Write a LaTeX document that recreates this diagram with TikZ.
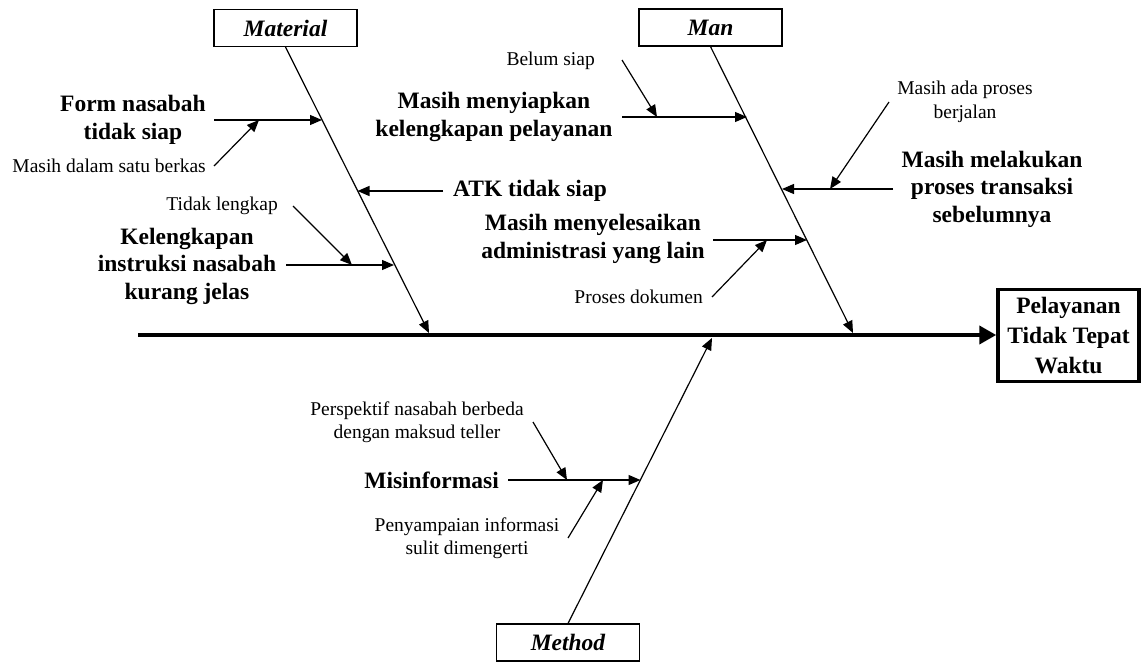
\documentclass[tikz,border=0pt]{standalone}
\usepackage{fontspec}
\setmainfont{Liberation Serif}
\usetikzlibrary{arrows.meta}
\begin{document}
\begin{tikzpicture}[x=1pt,y=-1pt,
  cat/.style={draw,line width=1.2pt,minimum width=143pt,minimum height=37pt,inner sep=0pt,font=\fontsize{23.5}{27.5}\selectfont\bfseries\itshape},
  big/.style={inner sep=0pt,align=center,font=\fontsize{23.5}{27.5}\selectfont\bfseries},
  small/.style={inner sep=0pt,align=center,font=\fontsize{19.5}{23.5}\selectfont},
  bone/.style={line width=1.2pt,-{Triangle[length=12pt,width=10pt]}},
  arr/.style={line width=1.2pt,-{Triangle[length=12pt,width=10pt]}}]
\useasboundingbox (0,0) rectangle (1141,663);
% category boxes
\node[cat] (mat) at (285.5,28) {Material};
\node[cat] (man) at (710.5,27.5) {Man};
\node[cat] (met) at (568,642.5) {Method};
% effect
\node[draw,line width=3.5pt,minimum width=141pt,minimum height=92pt,inner sep=0pt,align=center,font=\fontsize{23.5}{30}\selectfont\bfseries] (eff) at (1068.5,335.5) {Pelayanan\\Tidak Tepat\\Waktu};
% spine
\coordinate (sp0) at (138,335);
\draw[line width=4pt,-{Triangle[length=17pt,width=18pt]}] (sp0) -- (eff.west |- sp0);
% bone ends
\coordinate (matend) at (429,333);
\coordinate (manend) at (853,333);
\coordinate (metend) at (712,338);
\draw[bone] (mat.south) -- (matend);
\draw[bone] (man.south) -- (manend);
\draw[bone] (met.north) -- (metend);
% points on bones
\coordinate (b1) at (322,120);
\coordinate (b2) at (357.5,191);
\coordinate (b3) at (394,265);
\coordinate (b4) at (747,117);
\coordinate (b5) at (782,189);
\coordinate (b6) at (807,240);
\coordinate (b7) at (640.5,480);
% Material causes
\node[big] (form) at (133,120) {Form nasabah\\tidak siap};
\coordinate (form0) at (214,120);
\draw[arr] (form0) -- (b1);
\node[small,anchor=east] (mdsb) at (206,166) {Masih dalam satu berkas};
\coordinate (mdsb0) at (214,166);
\coordinate (mdsb1) at (259,120);
\draw[arr] (mdsb0) -- (mdsb1);
\node[big,anchor=west] (atk) at (453,191) {ATK tidak siap};
\coordinate (atk0) at (443,191);
\draw[arr] (atk0) -- (b2);
\node[big] (kel) at (187,266) {Kelengkapan\\instruksi nasabah\\kurang jelas};
\coordinate (kel0) at (286,265);
\draw[arr] (kel0) -- (b3);
\node[small,anchor=east] (tl) at (278,206) {Tidak lengkap};
\coordinate (tl0) at (293,206);
\coordinate (tl1) at (352,265);
\draw[arr] (tl0) -- (tl1);
% Man causes
\node[big] (mmk) at (494,117) {Masih menyiapkan\\kelengkapan pelayanan};
\coordinate (mmk0) at (622,117);
\draw[arr] (mmk0) -- (b4);
\node[small,anchor=east] (bs) at (595,61) {Belum siap};
\coordinate (bs0) at (622,60);
\coordinate (bs1) at (657,117);
\draw[arr] (bs0) -- (bs1);
\node[big] (mml) at (992,189) {Masih melakukan\\proses transaksi\\sebelumnya};
\coordinate (mml0) at (893,189);
\draw[arr] (mml0) -- (b5);
\node[small] (map) at (965,102) {Masih ada proses\\berjalan};
\coordinate (map0) at (889,102);
\coordinate (map1) at (830,189);
\draw[arr] (map0) -- (map1);
\node[big] (mms) at (593,239) {Masih menyelesaikan\\administrasi yang lain};
\coordinate (mms0) at (713,240);
\draw[arr] (mms0) -- (b6);
\node[small,anchor=east] (pd) at (703,297) {Proses dokumen};
\coordinate (pd0) at (712,297);
\coordinate (pd1) at (767,240);
\draw[arr] (pd0) -- (pd1);
% Method causes
\node[big,anchor=east] (mis) at (499,480) {Misinformasi};
\coordinate (mis0) at (508,480);
\draw[arr] (mis0) -- (b7);
\node[small] (per) at (417,422) {Perspektif nasabah berbeda\\dengan maksud teller};
\coordinate (per0) at (533,422);
\coordinate (per1) at (567,480);
\draw[arr] (per0) -- (per1);
\node[small] (pen) at (467,538) {Penyampaian informasi\\sulit dimengerti};
\coordinate (pen0) at (568,538);
\coordinate (pen1) at (603,480);
\draw[arr] (pen0) -- (pen1);
\end{tikzpicture}
\end{document}
